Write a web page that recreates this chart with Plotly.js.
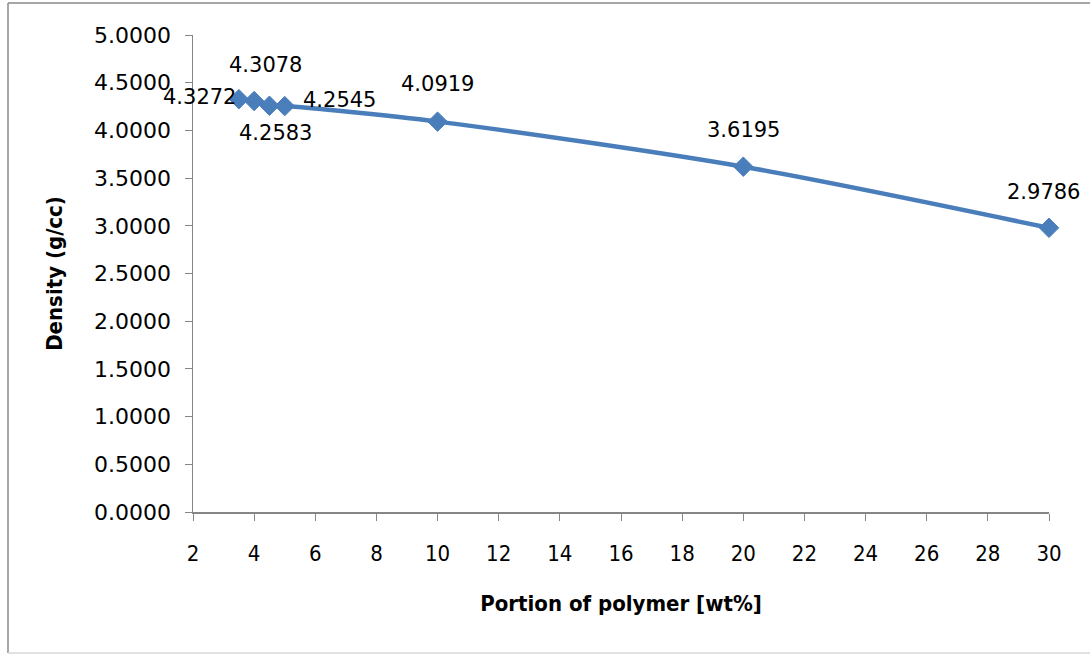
<!DOCTYPE html>
<html>
<head>
<meta charset="utf-8">
<script src="https://cdn.plot.ly/plotly-3.0.1.min.js"></script>
<style>html,body{margin:0;padding:0;background:#fff;}#chart{width:1090px;height:654px;}</style>
</head>
<body>
<div id="chart"></div>
<script>
const polymerWt = [3.5, 4, 4.5, 5, 10, 20, 30];
const density = [4.3272, 4.3078, 4.2583, 4.2545, 4.0919, 3.6195, 2.9786];
const labelText = ['4.3272', '4.3078', '4.2583', '4.2545', '4.0919', '3.6195', '2.9786'];

// label offsets in pixels (layout styling, per label)
const labelShift = [[-39, 2], [11, 36], [6, -27], [55, 6], [0, 38], [0, 37], [-6, 36]];

const W = 1090, H = 654, L = 193, R = 41, T = 35, B = 142;
const pw = W - L - R, ph = H - T - B;
function px(p){ return (p - L) / pw; }
function py(p){ return (H - B - p) / ph; }

const blue = '#4A7EBB';
const trace = {
  x: polymerWt, y: density, type: 'scatter', mode: 'lines+markers',
  line: {color: blue, width: 4.5, shape: 'spline', smoothing: 0.8},
  marker: {symbol: 'diamond', size: 15, color: blue, line: {color: blue, width: 1}},
  cliponaxis: false, hoverinfo: 'x+y'
};

const annotations = polymerWt.map((xv, i) => ({
  x: xv, y: density[i], xref: 'x', yref: 'y', text: labelText[i], showarrow: false,
  xshift: labelShift[i][0], yshift: labelShift[i][1],
  font: {family: 'DejaVu Sans, sans-serif', size: 21, color: '#000'}
}));

const condFont = 'Liberation Sans Narrow, DejaVu Sans Condensed, sans-serif';

const layout = {
  width: W, height: H,
  margin: {l: L, r: R, t: T, b: B},
  paper_bgcolor: '#fff', plot_bgcolor: '#fff',
  showlegend: false,
  annotations: annotations,
  xaxis: {
    range: [2, 30], dtick: 2, tick0: 2, showgrid: false, zeroline: false,
    showline: true, linecolor: '#868686', linewidth: 1.5,
    ticks: 'outside', ticklen: 7, tickcolor: '#868686', ticklabelstandoff: 14,
    tickfont: {family: condFont, size: 22, color: '#000'},
    title: {text: 'Portion of polymer [wt%]', standoff: 30,
      font: {family: condFont, size: 22, color: '#000', weight: 'bold'}}
  },
  yaxis: {
    range: [0, 5], dtick: 0.5, tick0: 0, tickformat: '.4f', showgrid: false, zeroline: false,
    showline: true, linecolor: '#868686', linewidth: 1.5,
    ticks: 'outside', ticklen: 7, tickcolor: '#868686', ticklabelstandoff: 9,
    tickfont: {family: 'DejaVu Sans, sans-serif', size: 22, color: '#000'},
    title: {text: 'Density (g/cc)', standoff: 25,
      font: {family: condFont, size: 22, color: '#000', weight: 'bold'}}
  },
  shapes: [
    {type: 'line', xref: 'paper', yref: 'paper', x0: px(8), x1: px(8), y0: py(3), y1: py(653), line: {color: '#8a8a8a', width: 1.5}},
    {type: 'line', xref: 'paper', yref: 'paper', x0: px(8), x1: px(1092), y0: py(3), y1: py(3), line: {color: '#8a8a8a', width: 1.5}},
    {type: 'line', xref: 'paper', yref: 'paper', x0: px(8), x1: px(1092), y0: py(653), y1: py(653), line: {color: '#d9d9d9', width: 1.5}}
  ]
};

Plotly.newPlot('chart', [trace], layout, {displayModeBar: false, staticPlot: true});
</script>
</body>
</html>
